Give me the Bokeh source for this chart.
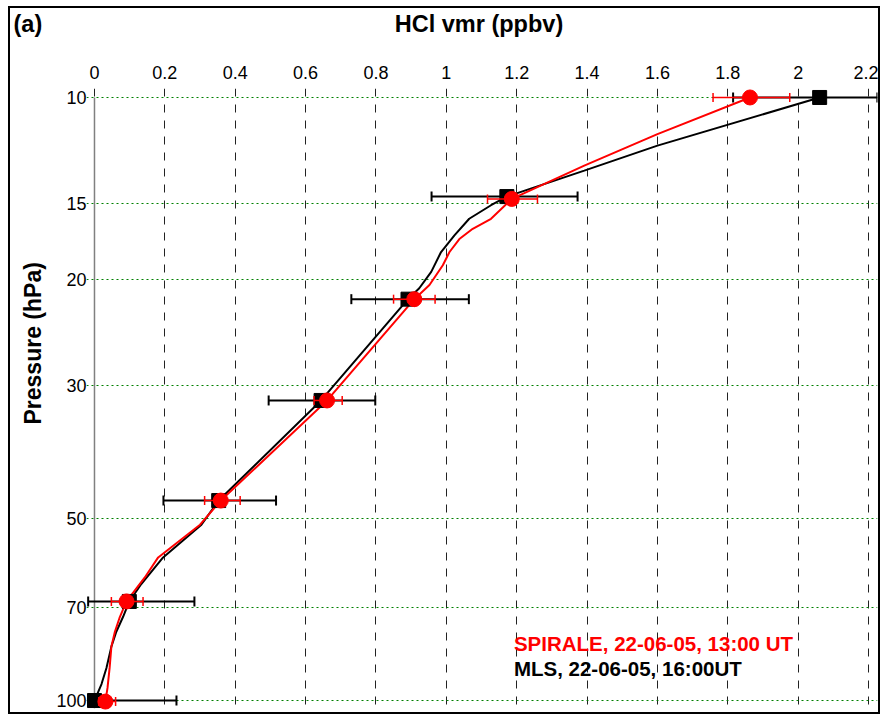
import math
from bokeh.plotting import figure
from bokeh.models import Range1d, FixedTicker, NumeralTickFormatter, Label, Title
from bokeh.embed import file_html
from bokeh.resources import INLINE

FONT = "Liberation Sans"

# ---------------- data ----------------
x_ticks = [0, 0.2, 0.4, 0.6, 0.8, 1.0, 1.2, 1.4, 1.6, 1.8, 2.0, 2.2]
p_ticks = [10, 15, 20, 30, 50, 70, 100]

# MLS (black squares)
mls_p = [10, 14.6, 21.6, 31.8, 46.6, 68.5, 100]
mls_x = [2.061, 1.172, 0.891, 0.644, 0.353, 0.099, 0.0]
mls_lo = [1.815, 0.958, 0.730, 0.495, 0.196, -0.018, 0.0]
mls_hi = [2.225, 1.373, 1.064, 0.798, 0.516, 0.284, 0.233]
mls_line_x = [2.061, 1.600, 1.392, 1.172, 1.127, 1.065, 1.023, 0.985, 0.957, 0.923,
              0.891, 0.644, 0.353, 0.304, 0.195, 0.133, 0.099, 0.081, 0.062, 0.048,
              0.034, 0.020, 0.0]
mls_line_p = [10, 12.02, 13.22, 14.6, 15.09, 15.89, 16.93, 18.04, 19.46, 20.72,
              21.6, 31.8, 46.6, 51.1, 57.9, 64.1, 68.5, 72.7, 76.9, 81.4,
              88.3, 93.9, 100]

# SPIRALE (red circles)
spi_p = [10, 14.73, 21.6, 31.8, 46.6, 68.5, 100.4]
spi_x = [1.863, 1.186, 0.909, 0.661, 0.359, 0.091, 0.031]
spi_lo = [1.758, 1.117, 0.850, 0.624, 0.313, 0.048, 0.012]
spi_hi = [1.976, 1.259, 0.968, 0.704, 0.414, 0.138, 0.060]
spi_line_x = [1.863, 1.600, 1.392, 1.186, 1.127, 1.075, 1.037, 1.009, 0.990, 0.952,
              0.909, 0.661, 0.359, 0.300, 0.181, 0.143, 0.091, 0.072, 0.058, 0.048,
              0.043, 0.037, 0.031]
spi_line_p = [10, 11.50, 12.97, 14.73, 15.89, 16.51, 17.17, 18.04, 18.98, 20.46,
              21.6, 31.8, 46.6, 51.1, 57.9, 62.5, 68.5, 72.7, 76.9, 81.4,
              88.3, 95.3, 100.4]

panel_label = "(a)"
x_title = "HCl vmr (ppbv)"
y_title = "Pressure (hPa)"
spi_label = "SPIRALE, 22-06-05, 13:00 UT"
mls_label = "MLS, 22-06-05, 16:00UT"

# ---------------- figure ----------------
W, H = 868, 704
p = figure(width=W, height=H, y_axis_type="log",
           x_range=Range1d(-0.0227, 2.2254), y_range=Range1d(103.88, 9.663),
           output_backend="svg", toolbar_location=None,
           x_axis_location="above", title=None,
           min_border_left=75, min_border_top=78, min_border_right=1, min_border_bottom=2)
p.outline_line_color = None
p.background_fill_color = "white"
p.border_fill_color = "white"
p.styles = {"margin-left": "10px", "margin-top": "8px",
            "box-shadow": "0 0 0 2px black"}

# axes
p.xaxis.ticker = FixedTicker(ticks=x_ticks)
p.xgrid.ticker = FixedTicker(ticks=x_ticks)
p.xaxis.formatter = NumeralTickFormatter(format="0.[0]")
p.yaxis.ticker = FixedTicker(ticks=p_ticks)
p.ygrid.ticker = FixedTicker(ticks=p_ticks)
p.yaxis.formatter = NumeralTickFormatter(format="0")
for ax in (p.xaxis, p.yaxis):
    ax.axis_line_color = None
    ax.major_tick_line_color = None
    ax.minor_tick_line_color = None
    ax.major_tick_in = 0
    ax.major_tick_out = 0
    ax.minor_tick_in = 0
    ax.minor_tick_out = 0
    ax.major_label_text_font = FONT
    ax.major_label_text_font_size = "18px"
    ax.major_label_text_color = "black"
p.xaxis.major_label_standoff = 10
p.yaxis.major_label_standoff = 0

# top line: panel label at the far left and the x title over the plot, as one
# title; an empty second line lifts it to the height of the reference
nb = "\u00a0"
top_title = Title(text=panel_label + nb * 54 + x_title + "\n" + nb,
                  align="left", offset=-73, standoff=0, vertical_align="bottom",
                  text_line_height=1.0, text_font=FONT, text_font_style="bold",
                  text_font_size="23.5px", text_color="black")
p.add_layout(top_title, "above")

left_title = Title(text=y_title, align="left", offset=286, standoff=15,
                   text_font=FONT, text_font_style="bold", text_font_size="23px",
                   text_color="black")
p.add_layout(left_title, "left")

p.xgrid.grid_line_color = "#222222"
p.xgrid.grid_line_dash = "8 8"
p.xgrid.grid_line_width = 1
p.ygrid.grid_line_color = "#008000"
p.ygrid.grid_line_dash = "2 3"
p.ygrid.grid_line_width = 1

# left axis line at x = 0
p.segment(x0=[0], y0=[10], x1=[0], y1=[103], line_color="#808080", line_width=1.5)

# MLS error bars
p.segment(x0=mls_lo, y0=mls_p, x1=mls_hi, y1=mls_p, line_color="black", line_width=2)
p.scatter(x=mls_lo + mls_hi, y=mls_p + mls_p, marker="dash", angle=math.pi / 2,
          size=10, line_color="black", line_width=2)
# lines
p.line(mls_line_x, mls_line_p, line_color="black", line_width=2)
p.line(spi_line_x, spi_line_p, line_color="#ff0000", line_width=2)
# MLS markers
p.scatter(mls_x, mls_p, marker="square", size=14, fill_color="black", line_color="black")
# SPIRALE error bars
p.segment(x0=spi_lo, y0=spi_p, x1=spi_hi, y1=spi_p, line_color="#ff0000", line_width=1.5)
p.scatter(x=spi_lo + spi_hi, y=spi_p + spi_p, marker="dash", angle=math.pi / 2,
          size=9, line_color="#ff0000", line_width=1.5)
# SPIRALE markers
p.scatter(spi_x, spi_p, marker="circle", size=15, fill_color="#ff0000", line_color="#ff0000")

# legend texts
p.add_layout(Label(x=1.192, y=80.4, text=spi_label, text_font=FONT,
                   text_font_style="bold", text_font_size="20.5px", text_color="#ff0000",
                   text_baseline="middle", text_align="left"))
p.add_layout(Label(x=1.192, y=88.6, text=mls_label, text_font=FONT,
                   text_font_style="bold", text_font_size="20.5px", text_color="black",
                   text_baseline="middle", text_align="left"))

open("out.html", "w").write(file_html(p, INLINE))
